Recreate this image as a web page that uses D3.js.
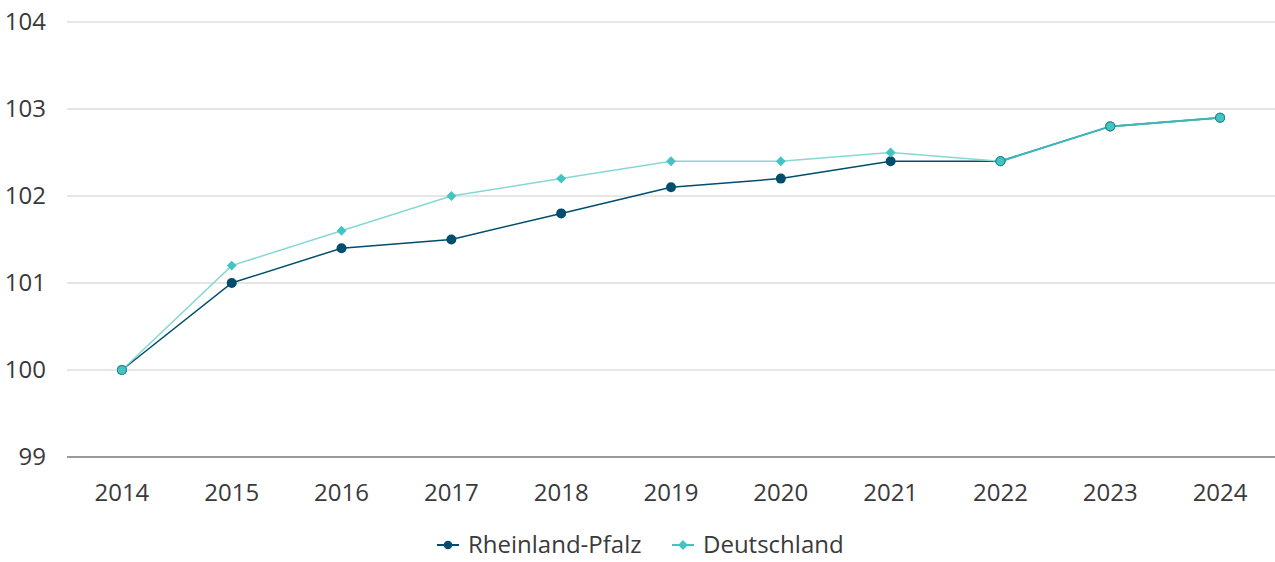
<!DOCTYPE html>
<html>
<head>
<meta charset="utf-8">
<script src="https://cdn.jsdelivr.net/npm/d3@7"></script>
<style>
  body { margin: 0; background: #fff; }
  text { font-family: "Open Sans", sans-serif; fill: #3a3a3a; }
</style>
</head>
<body>
<div id="chart"></div>
<script>
// data
const years = ["2014","2015","2016","2017","2018","2019","2020","2021","2022","2023","2024"];
const rpValues = [100, 101.0, 101.4, 101.5, 101.8, 102.1, 102.2, 102.4, 102.4, 102.8, 102.9];
const deValues = [100, 101.2, 101.6, 102.0, 102.2, 102.4, 102.4, 102.5, 102.4, 102.8, 102.9];
const yTicks = [99, 100, 101, 102, 103, 104];

const width = 1275, height = 562;
const margin = {top: 22, right: 0, bottom: 105, left: 67};

const rpColor = "#004d6e";
const deColor = "#44c4c1";
const deLine = "#86d8d4";

let svg = d3.select("#chart").append("svg")
    .attr("width", width)
    .attr("height", height);

let x = d3.scalePoint()
    .domain(years)
    .range([margin.left, width - margin.right])
    .padding(0.5);

let y = d3.scaleLinear()
    .domain([99, 104])
    .range([height - margin.bottom, margin.top]);

// gridlines
svg.append("g").selectAll("line")
    .data(yTicks)
    .enter().append("line")
    .attr("x1", margin.left)
    .attr("x2", width)
    .attr("y1", d => y(d))
    .attr("y2", d => y(d))
    .attr("stroke", d => d === 99 ? "#9a9a9a" : "#e6e6e6")
    .attr("stroke-width", 2);

// y labels
svg.append("g").selectAll("text")
    .data(yTicks)
    .enter().append("text")
    .attr("x", 46)
    .attr("y", d => y(d))
    .attr("dy", "0.33em")
    .attr("text-anchor", "end")
    .style("font-size", "24px")
    .text(d => d);

// x labels
svg.append("g").selectAll("text")
    .data(years)
    .enter().append("text")
    .attr("x", d => x(d))
    .attr("y", 501)
    .attr("text-anchor", "middle")
    .style("font-size", "24px")
    .text(d => d);

let line = d3.line()
    .x((d, i) => x(years[i]))
    .y(d => y(d));

svg.append("path")
    .datum(rpValues)
    .attr("d", line)
    .attr("fill", "none")
    .attr("stroke", rpColor)
    .attr("stroke-width", 1.5);

svg.append("path")
    .datum(deValues)
    .attr("d", line)
    .attr("fill", "none")
    .attr("stroke", deLine)
    .attr("stroke-width", 1.5);

// overlapping segments look teal
svg.append("path")
    .datum(deValues)
    .attr("d", d3.line()
        .defined((d, i) => d === rpValues[i] && (deValues[i + 1] === rpValues[i + 1] || deValues[i - 1] === rpValues[i - 1]))
        .x((d, i) => x(years[i]))
        .y(d => y(d)))
    .attr("fill", "none")
    .attr("stroke", "#3fb6b6")
    .attr("stroke-width", 2);

// RP markers
svg.append("g").selectAll("circle")
    .data(rpValues)
    .enter().append("circle")
    .attr("cx", (d, i) => x(years[i]))
    .attr("cy", d => y(d))
    .attr("r", 5)
    .attr("fill", rpColor);

// DE markers
let diamond = d3.symbol().type(d3.symbolDiamond2).size(62);
svg.append("g").selectAll("path")
    .data(deValues)
    .enter().append("path")
    .attr("transform", (d, i) => `translate(${x(years[i])},${y(d)})`)
    .attr("d", (d, i) => d === rpValues[i] ? d3.symbol().type(d3.symbolCircle).size(64)() : diamond())
    .attr("fill", deColor)
    .attr("stroke", (d, i) => d === rpValues[i] ? "#1f8f98" : "none")
    .attr("stroke-width", 1);

// legend
let legend = svg.append("g").attr("transform", "translate(0,545)");
let items = [
    {name: "Rheinland-Pfalz", color: rpColor, x0: 437, shape: "circle"},
    {name: "Deutschland", color: deColor, x0: 672, shape: "diamond"}
];
items.forEach(it => {
    let g = legend.append("g").attr("transform", `translate(${it.x0},0)`);
    g.append("line")
        .attr("x1", 0).attr("x2", 22)
        .attr("stroke", it.color).attr("stroke-width", 2);
    g.append("path")
        .attr("transform", "translate(11,0)")
        .attr("d", it.shape === "circle" ? d3.symbol().type(d3.symbolCircle).size(56)() : diamond())
        .attr("fill", it.color);
    g.append("text")
        .attr("x", 31)
        .attr("dy", "0.35em")
        .style("font-size", "24px")
        .text(it.name);
});
</script>
</body>
</html>
